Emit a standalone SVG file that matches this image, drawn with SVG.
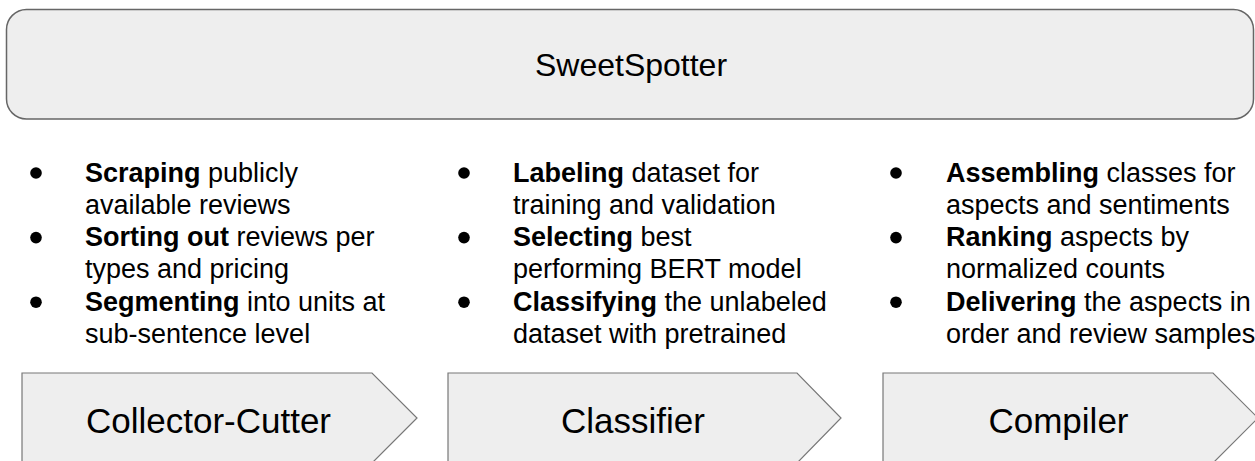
<svg xmlns="http://www.w3.org/2000/svg" width="1255" height="461" viewBox="0 0 1255 461">
<style>
.box{fill:#eeeeee;stroke:#666666;stroke-width:1.5}
.stage{fill:#eeeeee;stroke:#777777;stroke-width:1.2}
.t{font-family:"Liberation Sans",Arial,sans-serif;fill:#000}
.title{font-size:32px;text-anchor:middle}
.lab{font-size:35px;text-anchor:middle}
.b{font-size:27px}
.bd{font-weight:bold}
.dot{fill:#000}
</style>
<rect width="1255" height="461" fill="#ffffff"/>
<g id="sweetspotter">
<rect class="box" x="6.5" y="9.5" width="1247" height="109.5" rx="20" ry="20"/>
<text class="t title" x="631" y="76">SweetSpotter</text>
</g>
<g id="collector-bullets">
<circle class="dot" cx="36" cy="173" r="5.8"/>
<circle class="dot" cx="36" cy="237.6" r="5.8"/>
<circle class="dot" cx="36" cy="302.2" r="5.8"/>
<text class="t b" x="85" y="181.5"><tspan class="bd">Scraping</tspan> publicly</text>
<text class="t b" x="85" y="213.8">available reviews</text>
<text class="t b" x="85" y="246.1"><tspan class="bd">Sorting out</tspan> reviews per</text>
<text class="t b" x="85" y="278.4">types and pricing</text>
<text class="t b" x="85" y="310.7"><tspan class="bd">Segmenting</tspan> into units at</text>
<text class="t b" x="85" y="343">sub-sentence level</text>
</g>
<g id="classifier-bullets">
<circle class="dot" cx="464" cy="173" r="5.8"/>
<circle class="dot" cx="464" cy="237.6" r="5.8"/>
<circle class="dot" cx="464" cy="302.2" r="5.8"/>
<text class="t b" x="513" y="181.5"><tspan class="bd">Labeling</tspan> dataset for</text>
<text class="t b" x="513" y="213.8">training and validation</text>
<text class="t b" x="513" y="246.1"><tspan class="bd">Selecting</tspan> best</text>
<text class="t b" x="513" y="278.4">performing BERT model</text>
<text class="t b" x="513" y="310.7"><tspan class="bd">Classifying</tspan> the unlabeled</text>
<text class="t b" x="513" y="343">dataset with pretrained</text>
</g>
<g id="compiler-bullets">
<circle class="dot" cx="896" cy="173" r="5.8"/>
<circle class="dot" cx="896" cy="237.6" r="5.8"/>
<circle class="dot" cx="896" cy="302.2" r="5.8"/>
<text class="t b" x="946" y="181.5"><tspan class="bd">Assembling</tspan> classes for</text>
<text class="t b" x="946" y="213.8">aspects and sentiments</text>
<text class="t b" x="946" y="246.1"><tspan class="bd">Ranking</tspan> aspects by</text>
<text class="t b" x="946" y="278.4">normalized counts</text>
<text class="t b" x="946" y="310.7"><tspan class="bd">Delivering</tspan> the aspects in</text>
<text class="t b" x="946" y="343">order and review samples</text>
</g>
<g id="collector-cutter">
<polygon class="stage" points="22,373 372,373 417,418 372,463 22,463"/>
<text class="t lab" x="208.5" y="433">Collector-Cutter</text>
</g>
<g id="classifier">
<polygon class="stage" points="448,373 797,373 841,418 797,463 448,463"/>
<text class="t lab" x="633" y="433">Classifier</text>
</g>
<g id="compiler">
<polygon class="stage" points="883,373 1213,373 1258,418 1213,463 883,463"/>
<text class="t lab" x="1058.5" y="433">Compiler</text>
</g>
<g id="connectors"></g>
</svg>
